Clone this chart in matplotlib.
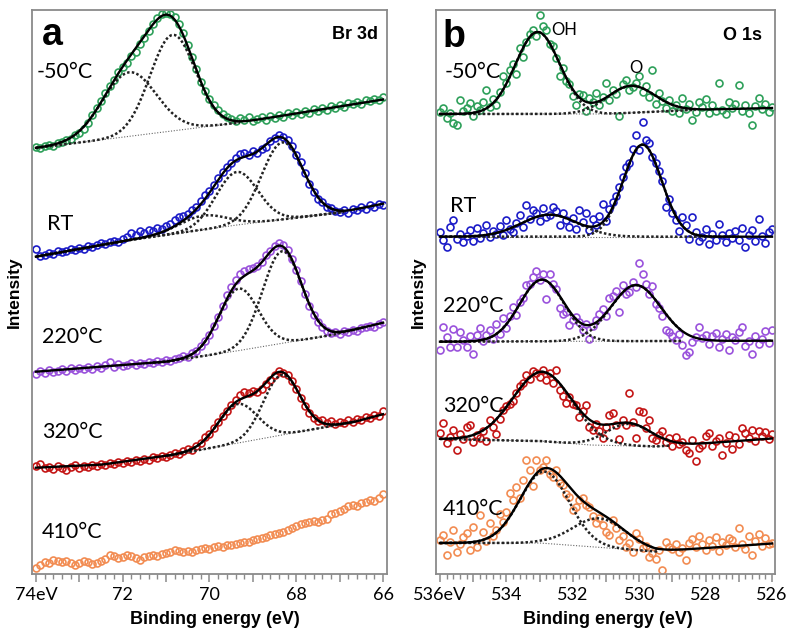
import numpy as np
import matplotlib.pyplot as plt

plt.rcParams['font.family'] = ['Lato', 'DejaVu Sans']

temps = ['-50°C', 'RT', '220°C', '320°C', '410°C']
colors = ['#2ea05a', '#1c1cc8', '#9a52dc', '#c41616', '#f28c52']

# ---- Br 3d spectra, 74 -> 66 eV in 0.1 eV steps (counts, arb. units) ----
br_m50 = [1, 0, 2, 3, 2, 5, 6, 8, 9, 13,
          15, 19, 25, 33, 40, 47, 55, 62, 68, 76,
          81, 85, 92, 96, 104, 110, 117, 124, 130, 134,
          135, 134, 131, 124, 115, 103, 91, 79, 66, 57,
          49, 43, 38, 34, 31, 29, 27, 30, 28, 31,
          27, 29, 31, 28, 32, 30, 33, 31, 35, 33,
          36, 34, 37, 35, 39, 37, 40, 38, 42, 40,
          43, 41, 45, 44, 46, 44, 48, 47, 49, 48, 51]
br_rt = [8, 1, 2, 4, 3, 6, 5, 6, 8, 7,
         9, 8, 11, 10, 12, 14, 13, 15, 16, 15,
         18, 20, 24, 22, 26, 24, 27, 26, 29, 28,
         31, 33, 37, 40, 41, 43, 47, 50, 56, 62,
         66, 72, 79, 85, 90, 94, 99, 103, 104, 102,
         106, 104, 108, 110, 116, 119, 122, 120, 117, 111,
         102, 95, 84, 73, 65, 58, 55, 50, 49, 46,
         45, 47, 44, 48, 47, 50, 48, 52, 50, 53, 52]
br_220 = [-2, 1, -1, 2, 0, 1, 3, 1, 4, 2,
          4, 3, 5, 3, 6, 4, 7, 10, 5, 8,
          6, 7, 9, 7, 9, 8, 10, 9, 11, 10,
          12, 11, 13, 14, 16, 15, 19, 21, 26, 31,
          37, 46, 55, 66, 77, 85, 92, 98, 101, 103,
          104, 106, 110, 117, 121, 126, 129, 127, 122, 113,
          102, 91, 78, 66, 57, 50, 45, 41, 39, 40,
          38, 41, 40, 42, 41, 44, 45, 46, 45, 48, 50]
br_320 = [2, 4, 0, 1, -1, 2, 0, -2, 1, 3,
          0, 2, 1, 3, 2, 4, 3, 5, 4, 6,
          5, 7, 6, 8, 7, 9, 8, 11, 10, 12,
          11, 13, 15, 14, 17, 19, 18, 22, 25, 31,
          34, 40, 46, 52, 57, 63, 68, 73, 76, 75,
          77, 76, 79, 84, 88, 93, 97, 95, 93, 87,
          79, 70, 62, 55, 50, 47, 48, 45, 47, 44,
          46, 45, 48, 46, 49, 48, 51, 50, 53, 52, 57]
br_410 = [0, 3, 6, 5, 8, 7, 6, 7, 5, 3,
          5, 7, 6, 4, 5, 7, 9, 13, 12, 10,
          11, 13, 12, 10, 8, 11, 12, 13, 12, 14,
          15, 16, 18, 17, 16, 17, 16, 18, 19, 20,
          19, 21, 22, 21, 23, 23, 24, 25, 26, 26,
          28, 29, 30, 31, 33, 34, 35, 36, 38, 40,
          42, 44, 45, 46, 47, 46, 48, 49, 54, 55,
          57, 59, 62, 63, 62, 65, 66, 68, 67, 70, 74]

# fitted components: (centre eV, height, sigma eV)
br_peaks = [[(71.85, 64, 0.62), (70.85, 96, 0.52)],
            [(70.15, 14, 0.55), (69.37, 53, 0.48), (68.32, 77, 0.48)],
            [(69.33, 62, 0.45), (68.33, 92, 0.45)],
            [(69.35, 39, 0.45), (68.34, 60, 0.42)],
            []]
br_bg_e = [[74, 69.3, 66], [74, 71.8, 69.5, 66.95, 66], [74, 71.0, 69.48, 67.18, 66],
           [74, 72.5, 70.86, 66.65, 66], None]
br_bg_i = [[0, 25.5, 48.5], [0, 17, 31, 44.5, 53], [0, 10, 20, 36.7, 49],
           [0, 3, 12.7, 46, 53.5], None]
br_window = [(74, 69.3), (74, 66.9), (71.3, 66.4), (71.0, 66.65), None]

# ---- O 1s spectra, 536 -> 526 eV in 0.1 eV steps ----
o_m50 = [2, 6, -4, 1, -9, -11, 14, 3, 6, 11,
         -2, 8, 4, 12, 24, 7, 15, 9, 22, 38,
         31, 44, 50, 40, 66, 57, 72, 80, 84, 78,
         99, 88, 84, 70, 68, 56, 38, 46, 33, 30,
         18, 9, 20, 19, 3, 16, 12, 21, 9, 17,
         31, 14, 24, 20, -2, 30, 34, 24, 27, 31,
         38, 22, 28, 17, 44, 10, 21, 13, 6, 14,
         3, 9, 1, 16, 5, 10, -6, 2, 12, 7,
         15, 1, 9, 3, 31, 4, 0, 12, 6, 10,
         29, 3, 9, 1, -11, 8, 16, 5, 10, 2, 7]
o_rt = [5, -3, -10, 10, 17, -2, 3, -5, 1, 7,
        -4, 9, -1, 4, 12, 0, 6, 3, 11, 2,
        17, 8, 5, 14, 22, 10, 32, 18, 27, 24,
        16, 29, 20, 22, 30, 26, 12, 24, 17, 10,
        19, 8, 27, 15, 24, 7, 18, 12, 21, 33,
        16, 28, 35, 41, 50, 60, 70, 74, 88, 102,
        87, 115, 97, 94, 80, 74, 66, 56, 30, 38,
        24, 17, 6, 20, 12, -2, 20, 5, -4, 0,
        8, -7, 3, -3, 13, 2, -5, 4, -1, 6,
        -3, 9, -10, 2, 7, -4, 18, 1, -6, 5, 8]
o_220 = [-8, 15, 5, -5, 13, -5, 10, 2, -5, 6,
         -12, 7, 14, 1, 7, 12, 3, 18, 8, 24,
         14, 26, 35, 27, 40, 44, 57, 58, 65, 71,
         62, 68, 43, 68, 58, 53, 34, 28, 30, 17,
         22, 25, 20, 12, 18, 3, 16, 22, 28, 33,
         26, 44, 46, 51, 30, 57, 48, 50, 60, 55,
         79, 68, 58, 48, 56, 38, 34, 26, 12, 10,
         6, 2, 8, -3, -13, -10, 0, 5, 15, 4,
         7, -2, 6, 9, -5, 3, 8, -8, 5, 2,
         10, 15, -4, 1, -12, 6, -2, 3, 11, -1, 12]
o_320 = [6, 16, -4, 2, 9, -11, 5, 0, 12, 14,
         -3, 4, 1, 8, -2, 19, 12, 5, 20, 29,
         33, 35, 38, 46, 53, 56, 64, 60, 68, 66,
         62, 69, 59, 66, 56, 69, 49, 43, 36, 42,
         35, 34, 22, 28, 34, 12, 9, 15, 8, 1,
         12, 24, 26, 14, 0, 19, 14, 46, 17, 1,
         28, 27, 11, 19, 1, -1, 4, 8, -3, 1,
         -7, 2, -5, -3, -11, -14, -1, -22, -9, -6,
         3, 6, -7, -2, 1, -16, -4, 4, -10, 2,
         -5, 11, 6, 1, 9, -2, 8, 3, 7, 0, 5]
o_410 = [4, 9, -11, 2, 14, -8, 0, 7, 11, -6,
         17, -3, 29, 12, 3, 21, 8, 14, 30, 22,
         32, 51, 44, 57, 46, 64, 84, 74, 58, 84,
         74, 77, 84, 70, 67, 74, 61, 59, 50, 47,
         34, 37, 44, 46, 39, 37, 28, 21, 26, 19,
         12, 9, 24, 16, 4, 8, -3, 1, -8, 11,
         5, -4, -2, -13, -9, -15, -6, -26, 2, -3,
         -5, 0, -8, -4, -16, 1, 5, -3, 8, 0,
         -6, 4, -2, 7, -7, 2, -1, 6, 4, -3,
         16, 0, -5, 8, -11, 3, 10, -2, 6, 0, 1]

o_peaks = [[(533.06, 82, 0.667), (530.25, 27, 0.72)],
           [(532.7, 22, 0.85), (529.9, 92, 0.58)],
           [(532.93, 61.7, 0.67), (530.1, 56, 0.75)],
           [(532.91, 69.4, 0.9), (530.3, 22, 0.7)],
           [(532.85, 71.7, 0.74), (531.2, 29, 0.8)]]
o_bg_e = [[536, 531, 528.5, 526], [536, 526], [536, 526],
          [536, 533, 531.5, 529.5, 528.3, 526], [536, 533, 529.5, 526]]
o_bg_i = [[0, 0, 4, 6], [0, 0], [0, 1],
          [0.3, -1.7, -5.7, -7.2, -4.7, 0.8], [1, 1, -7.5, 0.5]]
o_window = [(536, 528.3), (536, 527.0), (536, 528.7), (536, 529.1), (536, 529.4)]

# vertical stacking of the spectra
br_offset = [426, 317.3, 202.3, 106.3, 5.7]
o_offset = [460, 337.3, 232.3, 134.7, 30]


def gauss(x, c, h, s):
    return h * np.exp(-0.5 * ((x - c) / s) ** 2)


def background(x, be, inten):
    return np.interp(x, be[::-1], inten[::-1])


def draw_panel(ax, spectra, offsets, peaks, bg_e, bg_i, windows, e_hi, e_lo):
    for i, vals in enumerate(spectra):
        off = offsets[i]
        x = np.linspace(e_hi, e_lo, len(vals))
        ax.plot(x, off + np.array(vals), 'o', mfc='none', mec=colors[i],
                ms=5.0, mew=1.2, zorder=2)
        if not peaks[i]:
            continue
        xf = np.linspace(e_hi, e_lo, 500)
        fit = background(xf, bg_e[i], bg_i[i])
        for c, h, s in peaks[i]:
            fit = fit + gauss(xf, c, h, s)
        hi, lo = windows[i]
        xw = np.linspace(hi, lo, 300)
        bw = background(xw, bg_e[i], bg_i[i])
        ax.plot(xw, off + bw, ls=(0, (1, 1.5)), color='#666666', lw=0.8, zorder=3)
        for c, h, s in peaks[i]:
            ax.plot(xw, off + bw + gauss(xw, c, h, s), ls=(0, (1, 0.9)),
                    color='#222222', lw=1.8, zorder=3)
        ax.plot(xf, off + fit, color='black', lw=1.7, zorder=4)


def style_axis(ax, e_hi, e_lo, xlim, first_label):
    ax.set_xlim(*xlim)
    ax.set_ylim(0, 564)
    for sp in ax.spines.values():
        sp.set_color('#8a8a8a')
        sp.set_linewidth(1.3)
    ax.set_yticks([])
    major = np.arange(e_lo, e_hi + 0.5, 1)
    ax.set_xticks(major)
    labels = []
    for v in major:
        if int(round(v)) % 2:
            labels.append('')
        elif v == e_hi:
            labels.append(first_label)
        else:
            labels.append('%d' % v)
    ax.set_xticklabels(labels)
    ax.set_xticks(np.arange(e_lo, e_hi + 0.01, 0.2), minor=True)
    ax.tick_params(axis='x', which='major', direction='out', length=6, width=1.1,
                   color='#8a8a8a', labelsize=13, pad=3)
    ax.tick_params(axis='x', which='minor', direction='out', length=3.5, width=1.0,
                   color='#8a8a8a')
    ax.set_xlabel('Binding energy (eV)', fontsize=13, fontweight='bold',
                  family=['Liberation Sans', 'DejaVu Sans'])
    ax.set_ylabel('Intensity', fontsize=12.5, fontweight='bold',
                  family=['Liberation Sans', 'DejaVu Sans'])


fig = plt.figure(figsize=(7.95, 6.32), dpi=100)
ax_a = fig.add_axes([0.04025, 0.09177, 0.44654, 0.89241])
ax_b = fig.add_axes([0.54843, 0.09177, 0.42642, 0.89241])

draw_panel(ax_a, [br_m50, br_rt, br_220, br_320, br_410], br_offset, br_peaks,
           br_bg_e, br_bg_i, br_window, 74, 66)
draw_panel(ax_b, [o_m50, o_rt, o_220, o_320, o_410], o_offset, o_peaks,
           o_bg_e, o_bg_i, o_window, 536, 526)

style_axis(ax_a, 74, 66, (74.09, 65.91), '74eV')
style_axis(ax_b, 536, 526, (536.12, 525.91), '536eV')
ax_a.xaxis.set_label_coords(0.515, -0.065)
ax_b.xaxis.set_label_coords(0.507, -0.065)
ax_a.yaxis.set_label_coords(-0.028, 0.5)
ax_b.yaxis.set_label_coords(-0.03, 0.5)

bold = ['Liberation Sans', 'DejaVu Sans']
ax_a.text(0.028, 0.938, 'a', transform=ax_a.transAxes, fontsize=27,
          fontweight='bold', family=bold, va='baseline')
ax_a.text(0.975, 0.9486, 'Br 3d', transform=ax_a.transAxes, fontsize=13,
          fontweight='bold', family=bold, ha='right', va='baseline')
ax_b.text(0.0206, 0.9344, 'b', transform=ax_b.transAxes, fontsize=27,
          fontweight='bold', family=bold, va='baseline')
ax_b.text(0.9617, 0.9468, 'O 1s', transform=ax_b.transAxes, fontsize=13,
          fontweight='bold', family=bold, ha='right', va='baseline')
ax_b.text(0.339, 0.9557, 'OH', transform=ax_b.transAxes, fontsize=12, va='baseline')
ax_b.text(0.569, 0.8883, 'O', transform=ax_b.transAxes, fontsize=12, va='baseline')

a_pos = [(0.014, 0.8794), (0.042, 0.6099), (0.028, 0.4096), (0.028, 0.2411), (0.028, 0.0638)]
b_pos = [(0.0265, 0.8794), (0.0413, 0.6418), (0.0206, 0.4645), (0.0206, 0.2872), (0.0206, 0.1046)]
for t, (xa, ya), (xb, yb) in zip(temps, a_pos, b_pos):
    ax_a.text(xa, ya, t, transform=ax_a.transAxes, fontsize=15.5, va='baseline')
    ax_b.text(xb, yb, t, transform=ax_b.transAxes, fontsize=15.5, va='baseline')

fig.savefig('out.png', dpi=100)
